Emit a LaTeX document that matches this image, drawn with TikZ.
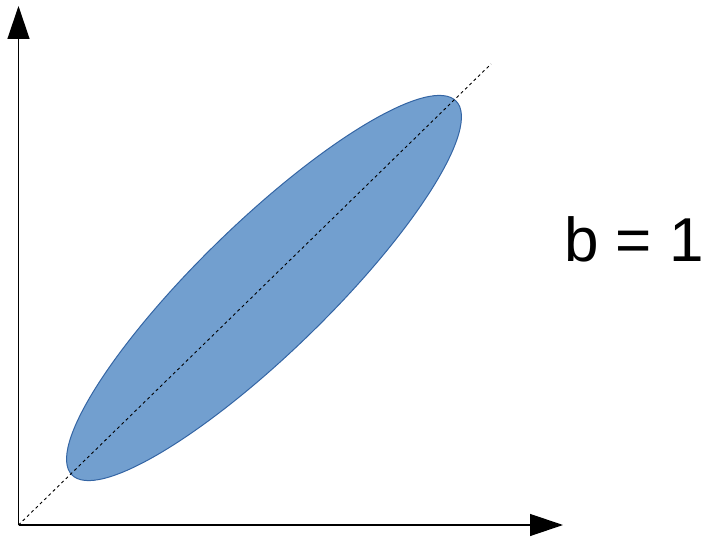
\documentclass[tikz,border=0pt]{standalone}
\usepackage{fontspec}
\setmainfont{Liberation Sans}
\definecolor{ShapeBlue}{RGB}{114,159,207}
\definecolor{ShapeLine}{RGB}{52,101,164}
\usetikzlibrary{arrows.meta,positioning}

\begin{document}
\begin{tikzpicture}[
      x=1pt, y=1pt,
      axis/.style={line width=1.3pt, -{Triangle[length=33pt,width=22pt]}},
      diag/.style={line width=0.9pt, dash pattern=on 3pt off 3pt},
      blob/.style={fill=ShapeBlue, draw=ShapeLine, line width=1pt},
      label/.style={font=\fontsize{62}{75}\selectfont, inner sep=0pt, anchor=base west}
    ]
      \useasboundingbox (0,0) rectangle (707,542);
      \coordinate (origin) at (18.5,17);
      \coordinate (ytip) at (18.5,536);
      \coordinate (xtip) at (563,17);
      \coordinate (diagend) at (491,478);
      % ellipse around the diagonal
      \draw[blob, rotate around={44.2:(264,254)}] (264,254) ellipse [x radius=268, y radius=65];
      \draw[diag] (origin) -- (diagend);
      % axes
      \draw[axis] (origin) -- (ytip);
      \draw[axis] (origin) -- (xtip);
      \node[label] (bval) at (564,281) {b = 1};
    \end{tikzpicture}
\end{document}
